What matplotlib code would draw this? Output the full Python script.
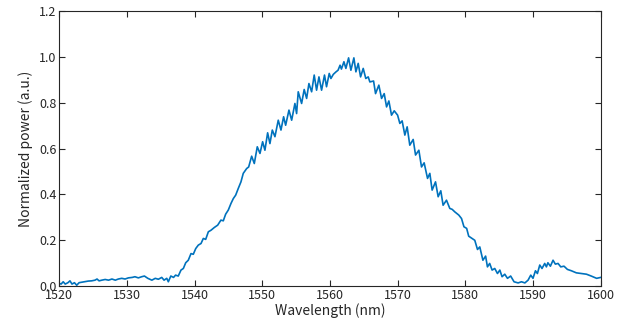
import matplotlib
matplotlib.use("Agg")
import matplotlib.pyplot as plt

plt.rcParams['font.family'] = ['Noto Sans CJK JP', 'DejaVu Sans']

# Spectrum (wavelength in nm, normalized power)
wavelength = [
    1520.0, 1520.3, 1520.6, 1520.9, 1521.3, 1521.6, 1521.9, 1522.26, 1522.6, 1522.95,
    1523.35, 1523.8, 1524.3, 1524.8, 1525.3, 1525.6, 1525.9, 1526.3, 1526.8, 1527.3,
    1527.8, 1528.3, 1528.75, 1529.25, 1529.74, 1530.23, 1530.8, 1531.2, 1531.7, 1532.2,
    1532.6, 1533.1, 1533.7, 1534.2, 1534.66, 1535.16, 1535.5, 1535.9, 1536.13, 1536.5,
    1536.9, 1537.2, 1537.6, 1538.0, 1538.35, 1538.7, 1539.08, 1539.48, 1539.82, 1540.18,
    1540.56, 1540.96, 1541.3, 1541.65, 1542.04, 1542.44, 1542.93, 1543.42, 1543.9, 1544.25,
    1544.6, 1544.99, 1545.39, 1545.73, 1546.08, 1546.46, 1546.86, 1547.2, 1547.7, 1548.0,
    1548.44, 1548.83, 1549.27, 1549.67, 1550.06, 1550.4, 1550.8, 1551.14, 1551.49, 1551.88,
    1552.37, 1552.77, 1553.16, 1553.46, 1553.95, 1554.35, 1554.83, 1555.08, 1555.32, 1555.82,
    1556.2, 1556.56, 1556.9, 1557.3, 1557.68, 1558.03, 1558.38, 1558.77, 1559.2, 1559.5,
    1559.9, 1560.15, 1560.5, 1560.9, 1561.2, 1561.5, 1561.7, 1562.07, 1562.36, 1562.76,
    1563.1, 1563.54, 1563.84, 1564.18, 1564.53, 1564.92, 1565.3, 1565.66, 1565.9, 1566.45,
    1566.74, 1567.23, 1567.63, 1568.02, 1568.37, 1568.71, 1569.1, 1569.5, 1570.0, 1570.33,
    1570.67, 1571.07, 1571.41, 1571.8, 1572.3, 1572.65, 1573.14, 1573.53, 1573.92, 1574.42,
    1574.76, 1575.1, 1575.6, 1575.99, 1576.38, 1576.72, 1577.22, 1577.71, 1578.06, 1578.45,
    1579.04, 1579.44, 1579.8, 1580.2, 1580.5, 1581.0, 1581.4, 1581.8, 1582.14, 1582.6,
    1583.0, 1583.27, 1583.6, 1583.96, 1584.35, 1584.75, 1585.1, 1585.43, 1585.83, 1586.23,
    1586.7, 1587.2, 1587.8, 1588.3, 1588.8, 1589.27, 1589.67, 1590.0, 1590.36, 1590.65,
    1591.0, 1591.33, 1591.73, 1591.98, 1592.2, 1592.57, 1592.96, 1593.3, 1593.7, 1594.1,
    1594.58, 1595.08, 1595.67, 1596.4, 1597.15, 1597.9, 1598.6, 1599.4, 1600.0,
]
power = [
    0.012, 0.009, 0.019, 0.009, 0.015, 0.023, 0.009, 0.015, 0.004, 0.015,
    0.017, 0.019, 0.022, 0.023, 0.026, 0.031, 0.023, 0.026, 0.029, 0.026,
    0.031, 0.026, 0.031, 0.034, 0.031, 0.036, 0.038, 0.041, 0.036, 0.041,
    0.044, 0.034, 0.026, 0.034, 0.030, 0.038, 0.026, 0.034, 0.019, 0.044,
    0.038, 0.048, 0.044, 0.070, 0.077, 0.102, 0.113, 0.142, 0.139, 0.164,
    0.179, 0.186, 0.208, 0.204, 0.237, 0.244, 0.256, 0.266, 0.288, 0.285,
    0.314, 0.332, 0.361, 0.382, 0.397, 0.426, 0.455, 0.492, 0.513, 0.520,
    0.567, 0.535, 0.608, 0.579, 0.630, 0.593, 0.669, 0.622, 0.681, 0.652,
    0.724, 0.681, 0.739, 0.702, 0.768, 0.724, 0.797, 0.753, 0.848, 0.797,
    0.858, 0.819, 0.884, 0.848, 0.921, 0.855, 0.913, 0.855, 0.921, 0.870,
    0.928, 0.906, 0.924, 0.935, 0.942, 0.964, 0.947, 0.979, 0.950, 0.996,
    0.942, 0.996, 0.935, 0.972, 0.913, 0.950, 0.906, 0.913, 0.891, 0.895,
    0.840, 0.877, 0.819, 0.840, 0.782, 0.808, 0.746, 0.765, 0.746, 0.710,
    0.721, 0.659, 0.695, 0.615, 0.640, 0.572, 0.593, 0.520, 0.538, 0.470,
    0.492, 0.419, 0.455, 0.390, 0.416, 0.353, 0.375, 0.339, 0.335, 0.324,
    0.310, 0.295, 0.259, 0.252, 0.218, 0.208, 0.200, 0.160, 0.171, 0.113,
    0.131, 0.084, 0.099, 0.070, 0.077, 0.055, 0.070, 0.041, 0.052, 0.034,
    0.044, 0.019, 0.014, 0.019, 0.014, 0.026, 0.048, 0.034, 0.067, 0.055,
    0.092, 0.077, 0.099, 0.084, 0.102, 0.087, 0.113, 0.096, 0.099, 0.084,
    0.087, 0.073, 0.067, 0.058, 0.055, 0.052, 0.044, 0.034, 0.038,
]

x_ticks = [1520, 1530, 1540, 1550, 1560, 1570, 1580, 1590, 1600]
y_ticks = [0.0, 0.2, 0.4, 0.6, 0.8, 1.0, 1.2]

fig = plt.figure(figsize=(6.29, 3.27), dpi=100)
ax = fig.add_axes([0.094, 0.125, 0.861, 0.841])

ax.plot(wavelength, power, color='#0072BD', linewidth=1.2)

ax.set_xlim(1520, 1600)
ax.set_ylim(0, 1.2)
ax.set_xticks(x_ticks)
ax.set_yticks(y_ticks)
ax.set_yticklabels([f'{v:.1f}' for v in y_ticks])
ax.tick_params(direction='in', top=True, right=True, length=4, width=0.8,
               labelsize=9, colors='#262626', pad=2)
for s in ax.spines.values():
    s.set_color('#262626')
    s.set_linewidth(0.8)

ax.set_xlabel('Wavelength (nm)', fontsize=10, color='#262626', labelpad=1)
ax.set_ylabel('Normalized power (a.u.)', fontsize=10, color='#262626', labelpad=4)

fig.savefig('out.png', dpi=100)
